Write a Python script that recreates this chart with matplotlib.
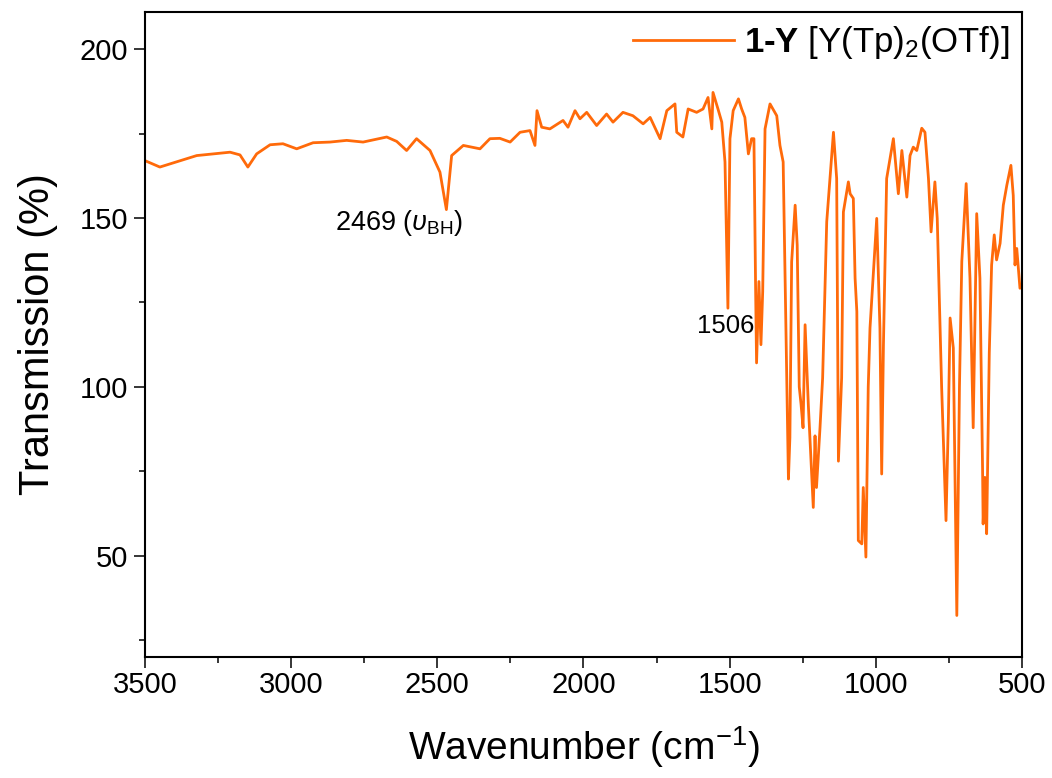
import matplotlib
matplotlib.use("Agg")
import matplotlib.pyplot as plt
from matplotlib.ticker import MultipleLocator

plt.rcParams['font.family'] = ['Liberation Sans', 'DejaVu Sans']
plt.rcParams['mathtext.fontset'] = 'custom'
plt.rcParams['mathtext.rm'] = 'Liberation Sans'
plt.rcParams['mathtext.it'] = 'Liberation Sans:italic'
plt.rcParams['mathtext.bf'] = 'Liberation Sans:bold'

# IR spectrum of 1-Y, wavenumber (cm-1) vs transmission (%)
wavenumber = [
    3500, 3449, 3323, 3209, 3175, 3148, 3118, 3072, 3028, 2981,
    2925, 2867, 2810, 2754, 2673, 2639, 2605, 2571, 2525, 2491,
    2469, 2451, 2411, 2354, 2320, 2286, 2251, 2217, 2183, 2166,
    2159, 2143, 2115, 2070, 2053, 2029, 2012, 1989, 1955, 1921,
    1899, 1865, 1831, 1796, 1772, 1738, 1715, 1687, 1681, 1660,
    1642, 1613, 1591, 1574, 1561, 1557, 1540, 1527, 1516, 1506,
    1499, 1488, 1470, 1459, 1448, 1436, 1425, 1417, 1411, 1408,
    1400, 1393, 1387, 1379, 1362, 1339, 1328, 1317, 1302, 1299,
    1294, 1288, 1276, 1269, 1262, 1256, 1249, 1242, 1231, 1214,
    1208, 1203, 1191, 1182, 1168, 1145, 1134, 1131, 1128, 1117,
    1111, 1094, 1088, 1077, 1071, 1065, 1060, 1048, 1043, 1034,
    1026, 1020, 997, 986, 980, 974, 963, 940, 923, 911,
    894, 883, 872, 860, 843, 832, 820, 811, 798, 790,
    775, 760, 752, 746, 735, 723, 714, 706, 691, 678,
    667, 661, 655, 644, 635, 633, 627, 621, 612, 604,
    595, 587, 575, 564, 552, 538, 530, 524, 518, 507,
    500,
]
transmission = [
    167.0, 165.1, 168.5, 169.5, 168.7, 165.1, 169.0, 171.7, 172.0, 170.5,
    172.3, 172.5, 173.0, 172.5, 174.0, 172.7, 170.0, 173.5, 170.0, 163.6,
    152.5, 168.5, 171.5, 170.5, 173.5, 173.6, 172.5, 175.4, 175.9, 171.5,
    181.8, 176.9, 176.4, 178.9, 176.9, 181.8, 179.4, 181.3, 177.4, 180.8,
    178.4, 181.3, 180.3, 177.9, 179.8, 173.5, 181.8, 183.8, 175.4, 174.0,
    182.3, 181.3, 182.3, 185.7, 176.4, 187.2, 182.3, 178.4, 166.6, 123.3,
    173.5, 181.8, 185.3, 182.3, 179.8, 169.0, 173.5, 173.5, 127.2, 107.1,
    131.2, 112.5, 128.2, 176.4, 183.8, 180.3, 171.5, 166.6, 88.0, 72.7,
    85.0, 137.0, 153.8, 142.0, 100.0, 95.0, 87.9, 118.4, 94.8, 64.3,
    85.5, 70.2, 87.9, 102.7, 148.9, 175.4, 161.7, 120.0, 78.0, 102.7,
    151.8, 160.7, 157.2, 155.8, 132.2, 122.3, 54.5, 53.5, 70.2, 49.6,
    100.0, 117.4, 149.9, 117.4, 74.2, 112.5, 161.7, 173.5, 157.2, 170.0,
    156.2, 168.5, 171.0, 170.0, 176.6, 175.4, 161.7, 145.9, 160.7, 149.9,
    100.0, 60.4, 89.9, 120.4, 111.5, 32.3, 100.0, 137.1, 160.2, 132.2,
    87.9, 120.0, 151.3, 132.2, 76.1, 59.4, 73.2, 56.5, 110.0, 136.1,
    145.0, 137.6, 142.5, 153.8, 159.7, 165.6, 156.7, 136.1, 141.0, 129.2,
    130.0,
]

x_major = [3500, 3000, 2500, 2000, 1500, 1000, 500]
y_major = [50, 100, 150, 200]

fig = plt.figure(figsize=(10.52, 7.78), dpi=100)
ax = fig.add_axes([0.1378, 0.1555, 0.8337, 0.829])

ax.plot(wavenumber, transmission, color='#FF6A0A', lw=2.0,
        label=r'$\mathbf{1‐Y}$ [Y(Tp)$_2$(OTf)]')

ax.set_xlim(3500, 500)
ax.set_ylim(20, 211)
ax.set_xticks(x_major)
ax.set_yticks(y_major)
ax.xaxis.set_minor_locator(MultipleLocator(250))
ax.yaxis.set_minor_locator(MultipleLocator(25))
ax.tick_params(axis='both', which='major', direction='out', length=8,
               width=1.1, labelsize=21)
ax.tick_params(axis='x', which='major', pad=2)
ax.tick_params(axis='y', which='major', pad=4)
ax.tick_params(axis='both', which='minor', direction='out', length=4.5,
               width=1.1)
for s in ax.spines.values():
    s.set_linewidth(1.5)

ax.set_xlabel(r'Wavenumber (cm$^{-1}$)', fontsize=28, labelpad=18)
ax.set_ylabel('Transmission (%)', fontsize=30, labelpad=16)

ax.text(2850, 146.6, r'2469 ($\upsilon_{\mathrm{BH}}$)', fontsize=19.5,
        ha='left', va='baseline')
ax.text(1612, 115.9, '1506', fontsize=18.5, ha='left', va='baseline')

ax.legend(loc='upper right', frameon=False, fontsize=25, handlelength=2.9,
          handletextpad=0.3, borderaxespad=0.15, borderpad=0.2)

fig.savefig('out.png', dpi=100)
